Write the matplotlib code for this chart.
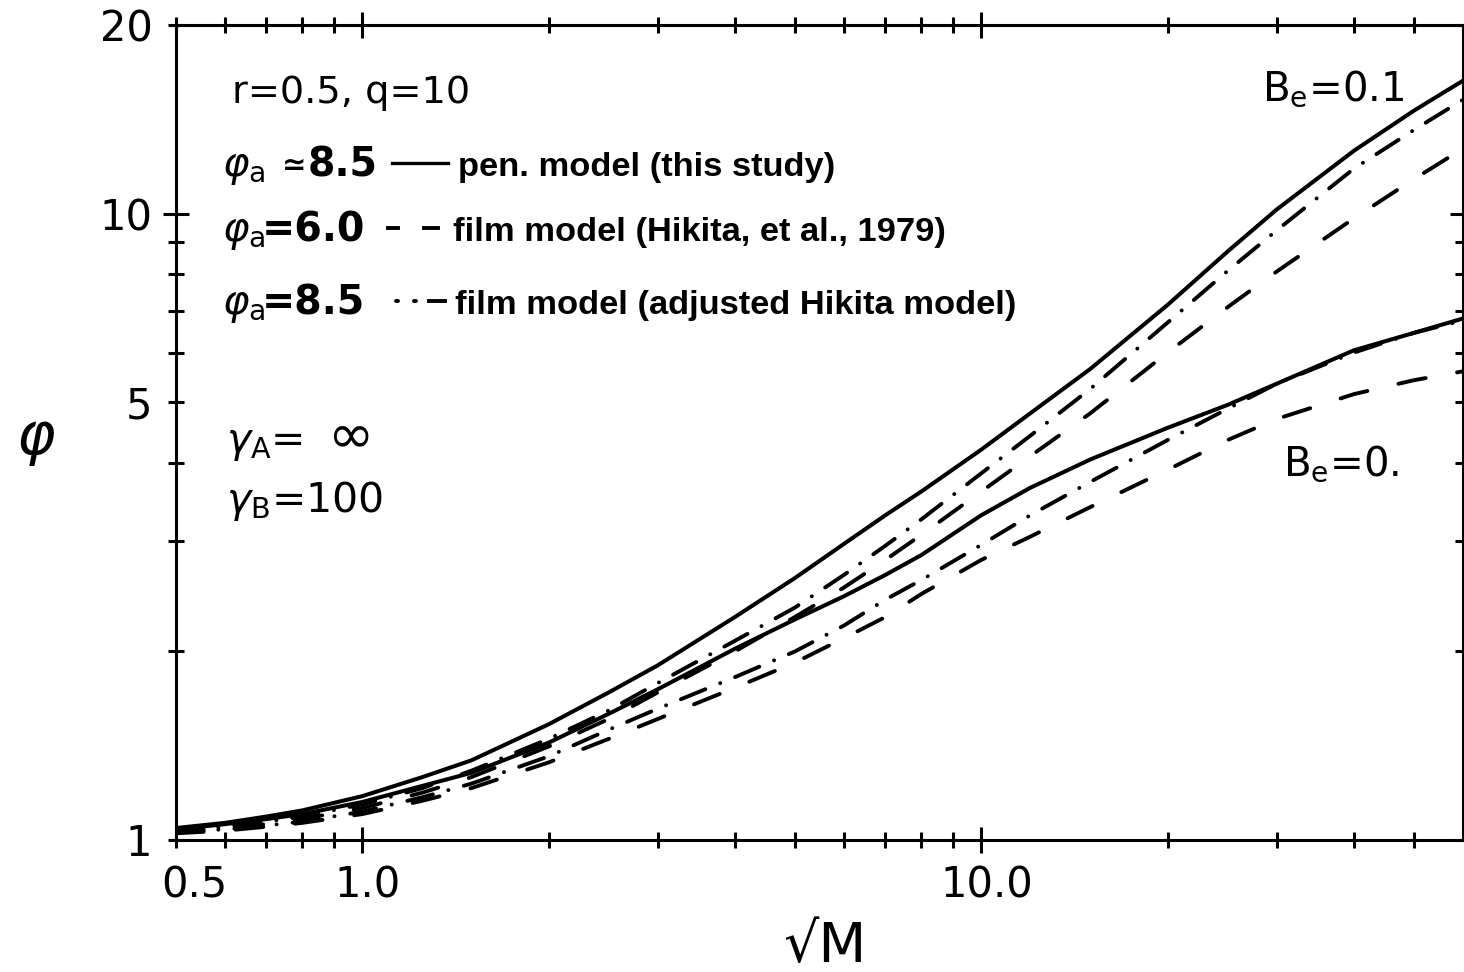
import matplotlib
matplotlib.use("Agg")
import matplotlib.pyplot as plt
from matplotlib.lines import Line2D
from matplotlib.ticker import FixedLocator, FixedFormatter
from matplotlib.transforms import ScaledTranslation

plt.rcParams['font.family'] = ['DejaVu Sans']
plt.rcParams['mathtext.fontset'] = 'dejavusans'
plt.rcParams['lines.scale_dashes'] = False

# ---------------- data ----------------
sqrtM = [0.5, 0.6, 0.7, 0.8, 1.0, 1.25, 1.5, 2.0, 2.5, 3.0, 4.0, 5.0,
         6.0, 7.0, 8.0, 10, 12, 15, 20, 25, 30, 40, 50, 60]

# B_e = 0.1
pen_Be01 = [1.045, 1.065, 1.09, 1.115, 1.175, 1.26, 1.34, 1.53, 1.72, 1.90,
            2.27, 2.62, 2.97, 3.30, 3.60, 4.20, 4.80, 5.65, 7.15, 8.70,
            10.15, 12.6, 14.6, 16.3]
adj_Be01 = [1.035, 1.05, 1.07, 1.09, 1.14, 1.21, 1.29, 1.45, 1.61, 1.78,
            2.08, 2.35, 2.65, 2.95, 3.25, 3.85, 4.42, 5.25, 6.70, 8.10,
            9.40, 11.8, 13.6, 15.2]
hik_Be01 = [1.03, 1.045, 1.06, 1.08, 1.125, 1.19, 1.26, 1.41, 1.56, 1.72,
            2.00, 2.27, 2.53, 2.80, 3.07, 3.60, 4.10, 4.80, 6.00, 7.09,
            8.08, 9.83, 11.35, 12.7]

# B_e = 0
pen_Be0 = [1.04, 1.06, 1.08, 1.10, 1.15, 1.22, 1.28, 1.43, 1.59, 1.74,
           2.02, 2.25, 2.45, 2.65, 2.85, 3.30, 3.65, 4.05, 4.55, 4.95,
           5.35, 6.05, 6.45, 6.80]
adj_Be0 = [1.03, 1.04, 1.055, 1.07, 1.11, 1.17, 1.23, 1.36, 1.50, 1.62,
           1.82, 2.00, 2.20, 2.42, 2.60, 2.96, 3.30, 3.73, 4.35, 4.88,
           5.35, 6.00, 6.45, 6.75]
hik_Be0 = [1.025, 1.035, 1.05, 1.065, 1.10, 1.155, 1.21, 1.33, 1.45, 1.56,
           1.75, 1.92, 2.10, 2.27, 2.47, 2.80, 3.05, 3.40, 3.90, 4.35,
           4.70, 5.15, 5.42, 5.60]

x_major = [1, 10]
x_major_labels = ['1.0', '10.0']
x_minor = [0.5, 0.6, 0.7, 0.8, 0.9, 2, 3, 4, 5, 6, 7, 8, 9, 20, 30, 40, 50]
x_minor_labels = ['0.5'] + [''] * 16
y_major = [10]
y_major_labels = ['10']
y_minor = [1, 2, 3, 4, 5, 6, 7, 8, 9, 20]
y_minor_labels = ['1', '', '', '', '5', '', '', '', '', '20']

# ---------------- figure ----------------
W, H = 1464, 972
fig = plt.figure(figsize=(W / 100, H / 100), dpi=100)
L, R, T, B = 176, 1463, 25, 840
ax = fig.add_axes([L / W, 1 - B / H, (R - L) / W, (B - T) / H])
ax.set_xscale('log')
ax.set_yscale('log')
ax.set_xlim(0.5, 60)
ax.set_ylim(1, 20)

solid = dict(color='black', lw=2.9, solid_capstyle='butt', solid_joinstyle='round')
dashed = dict(color='black', lw=2.8, linestyle=(0, (20, 23)), dash_capstyle='round')
dashdot = dict(color='black', lw=2.8, linestyle=(0, (19, 11.5, 0.1, 11.5)),
               dash_capstyle='round')

ax.plot(sqrtM, pen_Be01, **solid)
ax.plot(sqrtM, adj_Be01, **dashdot)
ax.plot(sqrtM, hik_Be01, **dashed)
ax.plot(sqrtM, pen_Be0, **solid)
ax.plot(sqrtM, adj_Be0, **dashdot)
ax.plot(sqrtM, hik_Be0, **dashed)

for s in ax.spines.values():
    s.set_linewidth(2.2)

ax.xaxis.set_major_locator(FixedLocator(x_major))
ax.xaxis.set_major_formatter(FixedFormatter(x_major_labels))
ax.xaxis.set_minor_locator(FixedLocator(x_minor))
ax.xaxis.set_minor_formatter(FixedFormatter(x_minor_labels))
ax.yaxis.set_major_locator(FixedLocator(y_major))
ax.yaxis.set_major_formatter(FixedFormatter(y_major_labels))
ax.yaxis.set_minor_locator(FixedLocator(y_minor))
ax.yaxis.set_minor_formatter(FixedFormatter(y_minor_labels))

ax.tick_params(which='both', direction='inout', top=True, right=True,
               labelsize=30, width=2.2, colors='black')
ax.tick_params(axis='x', which='major', length=19, pad=8)
ax.tick_params(axis='x', which='minor', length=11, pad=12)
ax.tick_params(axis='y', which='major', length=19, pad=7.5)
ax.tick_params(axis='y', which='minor', length=11, pad=11.5)

# shift x tick labels slightly right, like the reference
for lab in ax.get_xticklabels():
    lab.set_transform(lab.get_transform() + ScaledTranslation(5 / 100, 0, fig.dpi_scale_trans))
for lab in ax.get_xticklabels(minor=True):
    lab.set_transform(lab.get_transform() + ScaledTranslation(18 / 100, 0, fig.dpi_scale_trans))

# ---------------- axis labels ----------------
fig.text(825 / W, 1 - 947 / H, '\u221aM', fontsize=40, ha='center', va='center')
fig.text(36 / W, 1 - 440 / H, r'$\varphi$', fontsize=42, ha='center', va='center')


def ftext(x, y, s, **kw):
    fig.text(x / W, 1 - y / H, s, va='baseline', ha='left', **kw)


ftext(232, 103, 'r=0.5, q=10', fontsize=27.5)

bold_num = dict(fontsize=28.5, fontweight='bold')
leg_font = dict(fontsize=24.8, fontweight='bold', family=['Liberation Sans', 'DejaVu Sans'])
phi_kw = dict(fontsize=29)

# row 2
ftext(222, 176, r'$\varphi_{\rm a}$', **phi_kw)
ftext(282, 174, '\u2243', fontsize=21, fontweight='bold')
ftext(308, 176, '8.5', **bold_num)
ftext(458, 176, 'pen. model (this study)', **leg_font)
# row 3
ftext(222, 241, r'$\varphi_{\rm a}$', **phi_kw)
ftext(262, 241, '=6.0', **bold_num)
ftext(453, 241, 'film model (Hikita, et al., 1979)', **leg_font)
# row 4
ftext(222, 314, r'$\varphi_{\rm a}$', **phi_kw)
ftext(262, 314, '=8.5', **bold_num)
ftext(455, 314, 'film model (adjusted Hikita model)', **leg_font)

# legend key samples
def key(x0, x1, y, **kw):
    fig.add_artist(Line2D([x0 / W, x1 / W], [1 - y / H, 1 - y / H],
                          transform=fig.transFigure, color='black', **kw))

key(392, 448, 163, lw=2.4)
key(388, 398, 228, lw=2.8)
key(424, 438, 228, lw=2.8)
key(396, 398, 301, lw=2.8, solid_capstyle='round')
key(414, 416, 301, lw=2.8, solid_capstyle='round')
key(429, 445, 301, lw=2.8)

ftext(226, 452, r'$\gamma_{\rm A}$=', fontsize=29.5)
ftext(328, 452, '\u221e', fontsize=40)
ftext(226, 512, r'$\gamma_{\rm B}$=100', fontsize=29.5)

ftext(1262, 100, r'B$_{\rm e}$=0.1', fontsize=29)
ftext(1283, 475, r'B$_{\rm e}$=0.', fontsize=29)

fig.savefig('out.png', dpi=100)
